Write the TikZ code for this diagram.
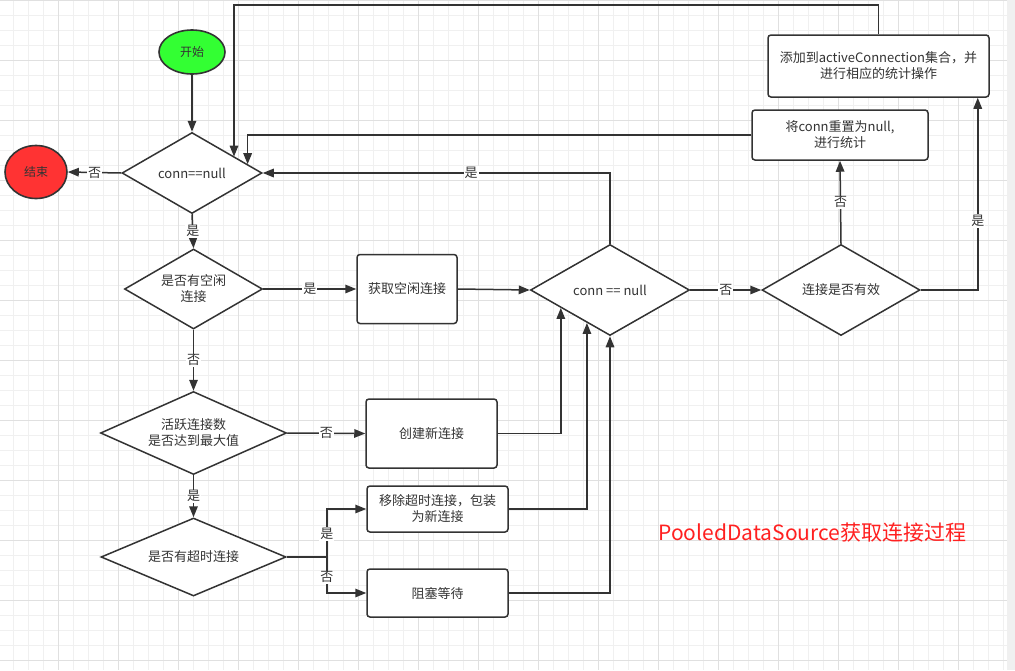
\documentclass[tikz,border=0pt]{standalone}
\usepackage{fontspec}
\newfontfamily\cjk{Noto Sans CJK SC}
\usetikzlibrary{arrows.meta,shapes.geometric,positioning}
\definecolor{linegray}{HTML}{333333}
\definecolor{gridlight}{HTML}{F0F0F0}
\definecolor{griddark}{HTML}{E0E0E0}
\definecolor{stripgray}{HTML}{F0F0F0}
\definecolor{startgreen}{HTML}{33FF33}
\definecolor{stopred}{HTML}{FF3333}
\definecolor{titlered}{HTML}{FF2020}
\tikzset{
    %Define standard arrow tip
    >={Triangle[length=11pt,width=8.5pt]},
    %Define style for start and end
    terminal/.style={
      ellipse,
      draw=linegray, line width=1.6pt,
      inner sep=0pt,
      text=linegray,
      font={\cjk\fontsize{12}{14}\selectfont}},
    %Define style for decisions
    decision/.style={
      diamond, aspect=2,
      draw=linegray, line width=1.5pt,
      fill=white,
      inner sep=0pt,
      align=center,
      text=linegray},
    %Define style for boxes
    process/.style={
      rectangle,
      rounded corners=3pt,
      draw=linegray, line width=1.5pt,
      fill=white,
      align=center,
      text=linegray},
    % Define arrow style
    arr/.style={
      ->,
      draw=linegray,
      line width=1.5pt},
    wire/.style={
      draw=linegray,
      line width=1.5pt},
    % Define style for yes/no labels
    lbl/.style={
      fill=white,
      inner sep=1pt,
      text=linegray},
    % Define grid styles
    minorgrid/.style={draw=gridlight, line width=1pt},
    majorgrid/.style={draw=griddark, line width=1pt}
}

\begin{document}
\begin{tikzpicture}[x=1pt, y=-1pt, font={\cjk\fontsize{13}{16}\selectfont}]
    % background grid
    \useasboundingbox (0,0) rectangle (1015,670);
    \fill[white] (0,0) rectangle (1015,670);
    \foreach \gx in {13,28,...,1003} \draw[minorgrid] (\gx,0) -- (\gx,670);
    \foreach \gy in {15,30,...,660} \draw[minorgrid] (0,\gy) -- (1007,\gy);
    \foreach \gx in {58,118,...,958} \draw[majorgrid] (\gx,0) -- (\gx,670);
    \foreach \gy in {0,60,...,660} \draw[majorgrid] (0,\gy) -- (1007,\gy);
    \fill[stripgray] (1007,0) rectangle (1015,670);

    \node[terminal, fill=startgreen, minimum width=66pt, minimum height=44pt] (start) at (192,52) {开始};
    \node[terminal, fill=stopred, minimum width=62pt, minimum height=53pt] (stop) at (36,172) {结束};
    \node[decision, minimum width=140pt, minimum height=81pt] (connnull1) at (192,173) {conn==null};
    \node[decision, minimum width=138pt, minimum height=80pt] (idle) at (193.5,289) {是否有空闲\\连接};
    \node[process, minimum width=100pt, minimum height=69pt] (getidle) at (407,289) {获取空闲连接};
    \node[decision, minimum width=159pt, minimum height=91pt] (connnull2) at (610,290) {conn == null};
    \node[decision, minimum width=158pt, minimum height=91pt] (valid) at (841,290) {连接是否有效};
    \node[process, minimum width=176pt, minimum height=50pt] (reset) at (840,135) {将conn重置为null,\\进行统计};
    \node[process, minimum width=221pt, minimum height=62pt] (addactive) at (878.5,66) {添加到activeConnection集合，并\\进行相应的统计操作};
    \node[decision, minimum width=186pt, minimum height=83pt] (maxactive) at (193.5,433) {活跃连接数\\是否达到最大值};
    \node[process, minimum width=131pt, minimum height=69pt] (create) at (431.5,433.5) {创建新连接};
    \node[decision, minimum width=185pt, minimum height=78pt] (timeout) at (193.5,557) {是否有超时连接};
    \node[process, minimum width=141pt, minimum height=46pt] (wrap) at (437.5,509) {移除超时连接，包装\\为新连接};
    \node[process, minimum width=141pt, minimum height=48pt] (wait) at (437.5,593) {阻塞等待};
    \node[anchor=west, text=titlered, font={\cjk\fontsize{21}{25}\selectfont}] (title) at (655,533) {PooledDataSource获取连接过程};

    \draw[arr] (start) -- (connnull1);
    \draw[arr] (connnull1.west) -- node[lbl]{否} (stop.east);
    \draw[arr] (connnull1.south) -- node[lbl]{是} (idle.north);
    \draw[arr] (idle.east) -- node[lbl]{是} (getidle.west);
    \draw[arr] (getidle.east) -- (connnull2.west);
    \draw[arr] (connnull2.north) |- node[lbl, pos=0.70]{是} (connnull1.east);
    \draw[arr] (connnull2.east) -- node[lbl]{否} (valid.west);
    \draw[arr] (valid.north) -- node[lbl]{否} (reset.south);
    \draw[arr] (valid.east) -| node[lbl, pos=0.68]{是} ([xshift=-12pt]addactive.south east);
    \coordinate (toploop) at (234,5);
    \draw[arr] (addactive.north) |- (toploop) -- (toploop |- connnull1.21);
    \draw[arr] (reset.west) -| (connnull1.9);
    \draw[arr] (idle.south) -- node[lbl]{否} (maxactive.north);
    \draw[arr] (maxactive.east) -- node[lbl]{否} (create.west);
    \draw[arr] (maxactive.south) -- node[lbl]{是} (timeout.north);
    \draw[wire] (timeout.east) -- ++(40,0) coordinate (split);
    \draw[arr] (split) |- node[lbl, pos=0.24]{是} (wrap.west);
    \draw[arr] (split) |- node[lbl, pos=0.28]{否} (wait.west);
    \draw[arr] (create.east) -| (connnull2.200);
    \draw[arr] (wrap.east) -| (connnull2.235);
    \draw[arr] (wait.east) -| (connnull2.south);
\end{tikzpicture}
\end{document}
